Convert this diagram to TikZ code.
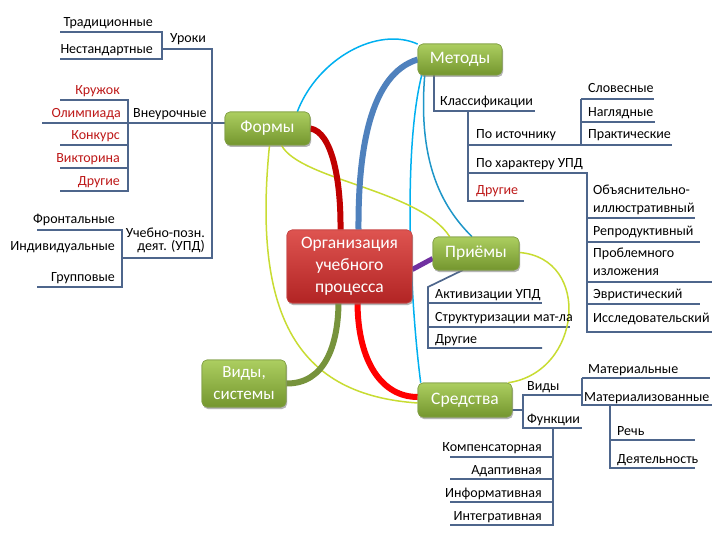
\documentclass[tikz,border=0pt]{standalone}
\usepackage{fontspec}
\setmainfont{Carlito}
\usetikzlibrary{shadows,calc}
\definecolor{treec}{RGB}{78,102,140}
\definecolor{redtxt}{RGB}{190,25,25}
\definecolor{dkred}{RGB}{192,0,0}
\definecolor{brred}{RGB}{255,0,0}
\definecolor{blthick}{RGB}{79,129,189}
\definecolor{purp}{RGB}{112,48,160}
\definecolor{olive}{RGB}{119,147,60}
\definecolor{cyanl}{RGB}{0,176,240}
\definecolor{tealb}{RGB}{30,150,200}
\definecolor{ygreen}{RGB}{200,220,50}
\definecolor{gtop}{RGB}{172,206,96}
\definecolor{gbot}{RGB}{116,150,46}
\definecolor{gbrd}{RGB}{130,160,70}
\definecolor{rtop}{RGB}{222,84,80}
\definecolor{rbot}{RGB}{178,36,36}
\definecolor{rbrd}{RGB}{200,70,70}
\begin{document}
\begin{tikzpicture}[x=1pt,y=-1pt,
  lbl/.style={inner sep=0pt, font=\fontsize{14}{16}\selectfont, text=black},
  lr/.style={lbl, anchor=base east},
  ll/.style={lbl, anchor=base west},
  rl/.style={text=redtxt},
  tl/.style={draw=treec, line width=1.7pt},
  gbox/.style={rounded corners=5pt, draw=gbrd, line width=0.6pt, top color=gtop, bottom color=gbot,
    text=white, font=\fontsize{17.5}{22}\selectfont, align=center, inner sep=0pt,
    drop shadow={opacity=0.35, shadow xshift=1pt, shadow yshift=-2pt}},
  rbox/.style={gbox, draw=rbrd, top color=rtop, bottom color=rbot, font=\fontsize{17.5}{22}\selectfont},
  thick1/.style={line width=6pt},
  thin1/.style={line width=1.5pt},
]
\useasboundingbox (0,0) rectangle (720,540);
\fill[white] (0,0) rectangle (720,540);

% ---------- tree lines ----------
% Уроки
\draw[tl] (60,32) -- (162,32) -- (162,59) -- (60,59);
\draw[tl] (162,49) -- (212,49) -- (212,258) -- (122,258);
% Внеурочные
\draw[tl] (42,123) -- (226,123);
\draw[tl] (60,100) -- (128,100) -- (128,191) -- (60,191);
\draw[tl] (60,145) -- (128,145);
\draw[tl] (60,168) -- (128,168);
% УПД
\draw[tl] (37,230) -- (122,230) -- (122,287) -- (37,287);
% Методы
\draw[tl] (434,75) -- (434,111) -- (535,111);
\draw[tl] (468,111) -- (468,201) -- (524,201);
\draw[tl] (468,145) -- (672,145);
\draw[tl] (468,173) -- (587,173) -- (587,332) -- (712,332);
\draw[tl] (581,99) -- (654,99);
\draw[tl] (581,99) -- (581,145);
\draw[tl] (581,122) -- (655,122);
\draw[tl] (587,218) -- (695,218);
\draw[tl] (587,242) -- (700,242);
\draw[tl] (587,282) -- (712,282);
\draw[tl] (587,304) -- (700,304);
% Приёмы
\draw[tl] (463,270) -- (428,287) -- (428,348) -- (542,348);
\draw[tl] (428,303) -- (542,303);
\draw[tl] (428,327) -- (570,327);
% Средства
\draw[tl] (512,410) -- (523,410);
\draw[tl] (582,395) -- (523,395) -- (523,428) -- (582,428);
\draw[tl] (582,378) -- (710,378);
\draw[tl] (582,378) -- (582,405) -- (712,405);
\draw[tl] (610,405) -- (610,468) -- (695,468);
\draw[tl] (610,440) -- (695,440);
\draw[tl] (553,428) -- (553,525) -- (450,525);
\draw[tl] (450,457) -- (553,457);
\draw[tl] (450,479) -- (553,479);
\draw[tl] (450,502) -- (553,502);

% ---------- boxes (named, positions only) ----------
\node[gbox, minimum width=85pt, minimum height=33pt] (forms) at (267.5,128.5) {Формы};
\node[gbox, minimum width=84pt, minimum height=31pt] (methods) at (460,59.5) {Методы};
\node[rbox, minimum width=125pt, minimum height=73pt] (org) at (349.5,266.5) {Организация\\учебного\\процесса};
\node[gbox, minimum width=86pt, minimum height=33pt] (priemy) at (476,253.5) {Приёмы};
\node[gbox, minimum width=94pt, minimum height=34pt] (sredstva) at (465,400) {Средства};
\node[gbox, minimum width=84pt, minimum height=47pt, font=\fontsize{17}{22}\selectfont] (vidy) at (244,383.5) {Виды,\\системы};

% ---------- thin connectors ----------
\draw[cyanl, thin1] ($(forms.north east)+(-13,0)$) .. controls (318,58) and (378,26) .. (methods.160);
\draw[cyanl, thin1] ($(methods.south west)+(4,0)$) .. controls (403,150) and (410,300) .. ($(sredstva.north west)+(3,0)$);
\draw[tealb, thin1] ($(methods.south west)+(7,0)$) .. controls (418,160) and (440,205) .. ($(priemy.north)+(-4,0)$);
\draw[ygreen, thin1] ($(forms.south)+(2,0)$) .. controls (252,320) and (300,395) .. ($(sredstva.west)+(0,3)$);
\draw[ygreen, thin1] ($(forms.south)+(14,0)$) .. controls (300,180) and (420,190) .. ($(priemy.north west)+(17,0)$);
\draw[ygreen, thin1] ($(priemy.east)+(0,-1)$) .. controls (592,258) and (582,372) .. ($(sredstva.north east)+(-4,0)$);

% ---------- thick connectors ----------
\draw[dkred, thick1] (forms.east) .. controls (332,132) and (341,180) .. ($(org.north)+(-9,0)$);
\draw[blthick, thick1] (methods.west) .. controls (370,74) and (358,150) .. ($(org.north)+(9,0)$);
\draw[purp, line width=5pt] ($(org.east)+(0,3)$) -- ($(priemy.west)+(0,5)$);
\draw[olive, thick1] ($(org.south)+(-11,0)$) .. controls (338,345) and (325,384) .. (vidy.east);
\draw[brred, thick1] ($(org.south)+(8,0)$) .. controls (358,362) and (382,397) .. ($(sredstva.west)+(0,-3)$);

% redraw boxes on top of the connectors
\node[gbox, minimum width=85pt, minimum height=33pt] at (forms) {Формы};
\node[gbox, minimum width=84pt, minimum height=31pt] at (methods) {Методы};
\node[rbox, minimum width=125pt, minimum height=73pt] at (org) {Организация\\учебного\\процесса};
\node[gbox, minimum width=86pt, minimum height=33pt] at (priemy) {Приёмы};
\node[gbox, minimum width=94pt, minimum height=34pt] at (sredstva) {Средства};
\node[gbox, minimum width=84pt, minimum height=47pt, font=\fontsize{17}{22}\selectfont] at (vidy) {Виды,\\системы};

% ---------- labels ----------
\node[lr] (l1) at (153,27) {Традиционные};
\node[lr] (l2) at (153,54) {Нестандартные};
\node[ll] (l3) at (170,43) {Уроки};
\node[lr, rl] (l4) at (120,95) {Кружок};
\node[lr, rl] (l5) at (121,118) {Олимпиада};
\node[ll] (l6) at (133,118) {Внеурочные};
\node[lr, rl] (l7) at (120,140) {Конкурс};
\node[lr, rl] (l8) at (120,163) {Викторина};
\node[lr, rl] (l9) at (120,186) {Другие};
\node[lr] (l10) at (115,223) {Фронтальные};
\node[lr] (l11) at (115,250) {Индивидуальные};
\node[lr] (l12) at (115,281) {Групповые};
\node[lr] (l13) at (205,237) {Учебно-позн.};
\node[lr] (l14) at (205,251) {деят. (УПД)};

\node[ll] (m1) at (440,106) {Классификации};
\node[ll] (m2) at (476,139) {По источнику};
\node[ll] (m3) at (476,168) {По характеру УПД};
\node[ll, rl] (m4) at (476,195) {Другие};
\node[ll] (m5) at (588,93) {Словесные};
\node[ll] (m6) at (588,117) {Наглядные};
\node[ll] (m7) at (588,139) {Практические};
\node[ll] (m8) at (593,195) {Объяснительно-};
\node[ll] (m9) at (593,212) {иллюстративный};
\node[ll] (m10) at (593,236) {Репродуктивный};
\node[ll] (m11) at (593,258) {Проблемного};
\node[ll] (m12) at (593,275) {изложения};
\node[ll] (m13) at (593,298) {Эвристический};
\node[ll] (m14) at (593,322) {Исследовательский};

\node[ll] (p1) at (435,298) {Активизации УПД};
\node[ll] (p2) at (435,321) {Структуризации мат-ла};
\node[ll] (p3) at (435,343) {Другие};

\node[ll] (s1) at (527,390) {Виды};
\node[ll] (s2) at (527,423) {Функции};
\node[ll] (s3) at (588,373) {Материальные};
\node[ll] (s4) at (584,401) {Материализованные};
\node[ll] (s5) at (617,435) {Речь};
\node[ll] (s6) at (617,463) {Деятельность};
\node[lr] (s7) at (542,451) {Компенсаторная};
\node[lr] (s8) at (542,474) {Адаптивная};
\node[lr] (s9) at (542,497) {Информативная};
\node[lr] (s10) at (542,520) {Интегративная};
\end{tikzpicture}
\end{document}
